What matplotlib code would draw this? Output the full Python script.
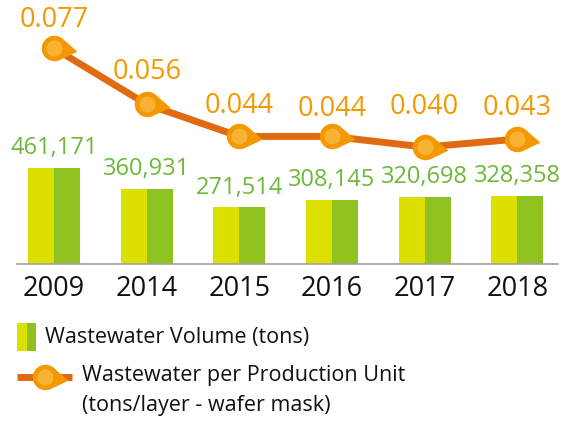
import numpy as np
import matplotlib
matplotlib.use("Agg")
import matplotlib.pyplot as plt
from matplotlib.path import Path
from matplotlib.patches import Rectangle
from matplotlib.lines import Line2D

# data
years = ["2009", "2014", "2015", "2016", "2017", "2018"]
volume_tons = [461171, 360931, 271514, 308145, 320698, 328358]
per_unit = [0.077, 0.056, 0.044, 0.044, 0.040, 0.043]
per_unit_labels = ["0.077", "0.056", "0.044", "0.044", "0.040", "0.043"]

YELLOW = "#DCE000"
GREEN = "#8DC21F"
GREEN_TXT = "#6DB83A"
ORANGE = "#F39800"
ORANGE_LIGHT = "#F8B334"
LINE_CLR = "#E06A12"

plt.rcParams['font.family'] = ['Open Sans', 'DejaVu Sans']

W, H = 572, 423
DPI = 100
fig = plt.figure(figsize=(W / DPI, H / DPI), dpi=DPI)


def px_box(x0, y0, x1, y1):
    # pixel box (top-left origin) -> figure fraction rect
    return [x0 / W, 1 - y1 / H, (x1 - x0) / W, (y1 - y0) / H]


ax = fig.add_axes(px_box(17, 0, 558, 264))
x = np.arange(len(years))
half = 0.28
ax.bar(x - half / 2, volume_tons, width=half, color=YELLOW, linewidth=0)
ax.bar(x + half / 2, volume_tons, width=half, color=GREEN, linewidth=0)
ax.set_xlim(-0.40, 5.44)
ax.set_ylim(0, 1267000)
for xi, v in zip(x, volume_tons):
    ax.annotate(f"{v:,}", (xi, v), xytext=(0, 10), textcoords="offset points",
                ha="center", va="baseline", color=GREEN_TXT, fontsize=17)

for s in ["top", "right", "left"]:
    ax.spines[s].set_visible(False)
ax.spines["bottom"].set_color("#A0A0A0")
ax.spines["bottom"].set_linewidth(1.2)
ax.set_yticks([])
ax.set_xticks(x)
ax.set_xticklabels(years, fontsize=19.5, color="#111111")
ax.tick_params(axis="x", length=0, pad=8)

# teardrop marker: circle with a point to the right
tip = np.array([1.8, -0.25])
d = np.hypot(*tip)
ang = np.degrees(np.arctan2(tip[1], tip[0]))
spread = np.degrees(np.arccos(1 / d))
arc = Path.arc(ang + spread, ang - spread + 360)
verts = np.vstack([arc.vertices, tip, arc.vertices[0]])
codes = list(arc.codes) + [Path.LINETO, Path.CLOSEPOLY]
drop = Path(verts, codes)

ax2 = ax.twinx()
ax2.set_ylim(-0.0037, 0.0950)
ax2.axis("off")
ax2.plot(x, per_unit, color=LINE_CLR, linewidth=5, zorder=2,
         solid_capstyle="butt")
ax2.plot(x, per_unit, linestyle="none", marker=drop, markersize=33,
         markerfacecolor=ORANGE, markeredgewidth=0, zorder=3)
ax2.plot(x, per_unit, linestyle="none", marker="o", markersize=11.5,
         markerfacecolor=ORANGE_LIGHT, markeredgewidth=0, zorder=4)
label_dy = [15, 18, 17, 15, 24, 17]
for xi, v, lab, dy in zip(x, per_unit, per_unit_labels, label_dy):
    ax2.annotate(lab, (xi, v), xytext=(0, dy), textcoords="offset points",
                 ha="center", va="baseline", color=ORANGE, fontsize=19.5)

# legend drawn in pixel coordinates
lg = fig.add_axes([0, 0, 1, 1])
lg.set_xlim(0, W)
lg.set_ylim(H, 0)
lg.axis("off")
lg.add_patch(Rectangle((17, 323), 9.5, 28, color=YELLOW, lw=0))
lg.add_patch(Rectangle((26.5, 323), 9.5, 28, color=GREEN, lw=0))
lg.text(45, 337, "Wastewater Volume (tons)", fontsize=15.5, va="center",
        ha="left", color="#111111")
lg.add_line(Line2D([17, 72], [377, 377], color=LINE_CLR, linewidth=5,
                   solid_capstyle="butt"))
lg.plot([45], [377], marker=drop, markersize=33, markerfacecolor=ORANGE,
        markeredgewidth=0, linestyle="none")
lg.plot([45], [377], marker="o", markersize=11.5, markerfacecolor=ORANGE_LIGHT,
        markeredgewidth=0, linestyle="none")
lg.text(82, 376, "Wastewater per Production Unit", fontsize=15.5, va="center",
        ha="left", color="#111111")
lg.text(82, 406, "(tons/layer - wafer mask)", fontsize=15.5, va="center",
        ha="left", color="#111111")

fig.savefig("out.png", dpi=DPI)
